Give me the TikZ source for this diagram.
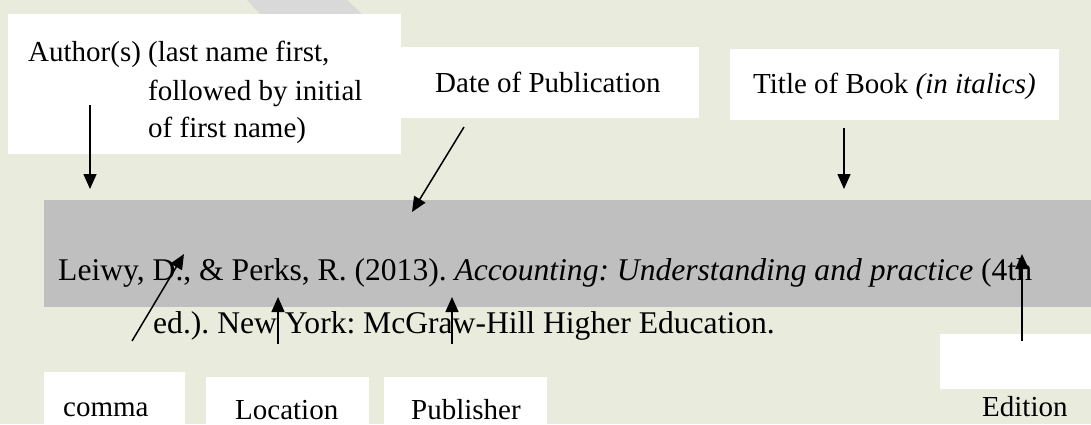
\documentclass[tikz,border=0pt]{standalone}
\usepackage{fontspec}
\setmainfont{Liberation Serif}
\usetikzlibrary{arrows.meta}
\definecolor{pagebg}{HTML}{E9ECDD}
\definecolor{band}{HTML}{BFBFBF}
\definecolor{stripe}{HTML}{D9D9D9}
\frenchspacing

\begin{document}
\begin{tikzpicture}[x=1pt,y=-1pt,
  every node/.style={inner sep=0pt,anchor=base west,font=\fontsize{29}{35}\selectfont},
  citeline/.style={font=\fontsize{31.6}{38}\selectfont},
  pointer/.style={-{Triangle[width=13pt,length=15pt]},line width=1.5pt}]
\fill[pagebg] (0,0) rectangle (1091,424);
\fill[stripe] (247,0) -- (347,0) -- (362,14) -- (260,14) -- cycle;
\fill[band] (44,200) rectangle (1091,307);
\fill[white] (8,14) rectangle (401,154);
\fill[white] (401,47) rectangle (699,118);
\fill[white] (730,49) rectangle (1059,120);
\fill[white] (44,372) rectangle (185,424);
\fill[white] (206,377) rectangle (369,424);
\fill[white] (384,377) rectangle (547,424);
\fill[white] (940,334) rectangle (1091,389);

\node (authors) at (28,61) {Author(s) (last name first,};
\node (authors2) at (148,100) {followed by initial};
\node (authors3) at (148,137) {of first name)};
\node (date) at (435,92) {Date of Publication};
\node (title) at (753,93) {Title of Book \textit{(in italics)}};
\node[citeline] (cite1) at (58,280) {Leiwy, D., \& Perks, R. (2013). \textit{Accounting: Understanding and practice} (4th};
\node[citeline] (cite2) at (153,333) {ed.). New York: McGraw-Hill Higher Education.};
\node (comma) at (63,416) {comma};
\node (location) at (235,419) {Location};
\node (publisher) at (411,419) {Publisher};
\node (edition) at (982,416) {Edition};

\coordinate (authortail) at (90,105);
\coordinate (authortip) at (90,189);
\coordinate (datetail) at (464,127);
\coordinate (datetip) at (412,212);
\coordinate (titletail) at (844,128);
\coordinate (titletip) at (844,189);
\coordinate (commatail) at (132,341);
\coordinate (commatip) at (184,254);
\coordinate (locationtail) at (278,344);
\coordinate (locationtip) at (278,297);
\coordinate (publishertail) at (452,344);
\coordinate (publishertip) at (452,297);
\coordinate (editiontail) at (1022,341);
\coordinate (editiontip) at (1022,254);

\foreach \p in {author,date,title,comma,location,publisher}
  \draw[pointer] (\p tail) -- (\p tip);
\draw[pointer,line width=2.5pt] (editiontail) -- (editiontip);
\end{tikzpicture}
\end{document}
